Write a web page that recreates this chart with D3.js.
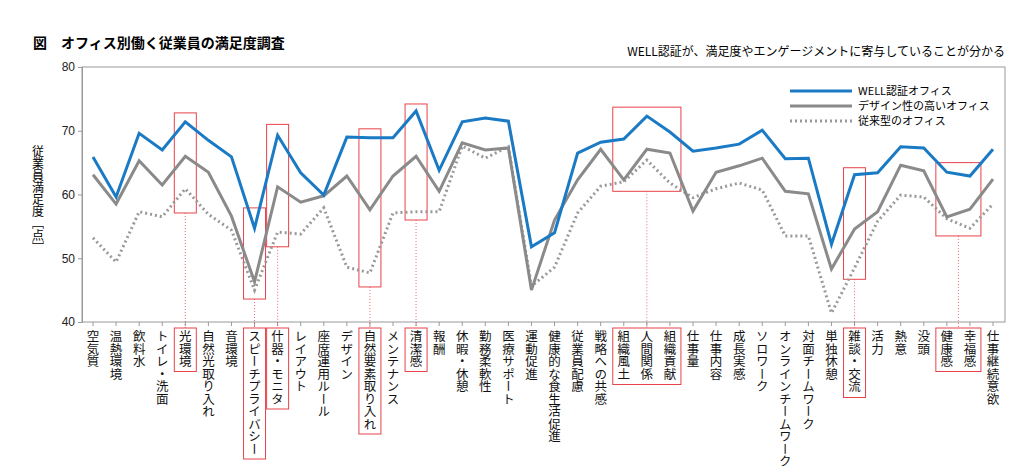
<!DOCTYPE html>
<html><head><meta charset="utf-8">
<script src="https://cdn.jsdelivr.net/npm/d3@7"></script>
<style>body{margin:0;background:#fff}svg{font-family:"Noto Sans CJK JP",sans-serif}</style>
</head><body><svg id="c" width="1024" height="473"></svg>
<script>
const categories=["空気質","温熱環境","飲料水","トイレ・洗面","光環境","自然光取り入れ","音環境","スピーチプライバシー","什器・モニタ","レイアウト","座席運用ルール","デザイン","自然要素取り入れ","メンテナンス","清潔感","報酬","休暇・休憩","勤務柔軟性","医療サポート","運動促進","健康的な食生活促進","従業員配慮","戦略への共感","組織風土","人間関係","組織貢献","仕事量","仕事内容","成長実感","ソロワーク","オンラインチームワーク","対面チームワーク","単独休憩","雑談・交流","活力","熱意","没頭","健康感","幸福感","仕事継続意欲"];
const well=[65.9,59.6,69.6,67,71.4,68.5,65.9,54.7,69.3,63.4,59.9,69,68.9,68.9,73.1,63.8,71.4,72,71.5,51.8,54,66.5,68.2,68.7,72.3,69.8,66.8,67.3,67.9,70.1,65.6,65.7,52.2,63.1,63.4,67.5,67.3,63.5,62.9,67.1];
const design=[63.1,58.5,65.3,61.5,66,63.5,56.6,46.3,61.2,58.8,59.8,62.9,57.6,62.9,66,60.5,68.1,67,67.3,45,56,62.3,67.1,62.3,67.1,66.5,57.4,63.5,64.5,65.7,60.5,60.1,48.3,54.6,57.3,64.6,63.7,56.5,57.7,62.4];
const conv=[53.2,49.4,57.3,56.5,60.9,56.9,54.4,45,54.1,53.8,57.9,48.6,47.7,57.1,57.3,57.3,67.6,65.7,67.5,45.6,48.6,57.1,61.3,62,65.4,61.8,59.5,60.9,61.8,60.7,53.5,53.5,41.4,48.5,55.8,59.9,59.6,56.2,54.7,58.5];
const yTicks=[40,50,60,70,80];
const seriesNames=["WELL認証オフィス","デザイン性の高いオフィス","従来型のオフィス"];
// highlight groups: [firstIndex,lastIndex,topValue,bottomValue]
const boxes=[[4,4,72.8,57.1],[7,7,57.9,43.6],[8,8,71,51.8],[12,12,70.3,45.5],[14,14,74.2,56],[23,25,73.7,60.5],[33,33,64.2,46.7],[37,38,65,53.5]];

const svg=d3.select("#c");
const L=82,R=1005,T=67,B=322;
const x=d3.scalePoint().domain(d3.range(categories.length)).range([93,993]);
const y=d3.scaleLinear().domain([40,80]).range([B,T]);
svg.append("rect").attr("x",L).attr("y",T).attr("width",R-L).attr("height",B-T).attr("fill","none").attr("stroke","#999");
const ya=svg.append("g").attr("transform",`translate(${L},0)`).call(d3.axisLeft(y).tickValues(yTicks).tickSize(4));
ya.select(".domain").attr("stroke","#999");ya.selectAll("line").attr("stroke","#999");
ya.selectAll("text").attr("font-size",12).attr("fill","#222");
svg.append("g").attr("transform",`translate(0,${B})`).selectAll("line").data(d3.range(categories.length)).join("line")
 .attr("x1",d=>x(d)).attr("x2",d=>x(d)).attr("y1",0).attr("y2",4).attr("stroke","#999");

svg.append("text").attr("x",33).attr("y",48).attr("font-size",14).attr("font-weight","bold").text("図　オフィス別働く従業員の満足度調査");
svg.append("text").attr("x",1005).attr("y",56).attr("text-anchor","end").attr("font-size",12).text("WELL認証が、満足度やエンゲージメントに寄与していることが分かる");
svg.append("text").attr("x",38).attr("y",145).attr("font-size",12).style("writing-mode","vertical-rl").text("従業員満足度［点］");

const line=d3.line().x((d,i)=>x(i)).y(d=>y(d));
// label boxes
const lab=svg.append("g");
categories.forEach((c,i)=>{
 lab.append("text").attr("x",x(i)).attr("y",330).attr("font-size",12.5).attr("fill","#111").style("writing-mode","vertical-rl").text(c);
});
const texts=lab.selectAll("text").nodes();
boxes.forEach(b=>{
 const x0=x(b[0])-11,x1=x(b[1])+11;
 svg.append("rect").attr("x",x0).attr("y",y(b[2])).attr("width",x1-x0).attr("height",y(b[3])-y(b[2])).attr("fill","none").attr("stroke","#e8434a").attr("stroke-width",1);
 let h=0;for(let i=b[0];i<=b[1];i++){h=Math.max(h,texts[i].getBBox().height);}
 svg.append("rect").attr("x",x0).attr("y",328).attr("width",x1-x0).attr("height",h+6).attr("fill","none").attr("stroke","#e8434a");
 const mx=(x0+x1)/2;
 svg.append("line").attr("x1",mx).attr("x2",mx).attr("y1",y(b[3])).attr("y2",328).attr("stroke","#e8434a").attr("stroke-width",0.8).attr("stroke-dasharray","1,2");
});
svg.append("path").datum(conv).attr("d",line).attr("fill","none").attr("stroke","#999").attr("stroke-width",3).attr("stroke-dasharray","2,3");
svg.append("path").datum(design).attr("d",line).attr("fill","none").attr("stroke","#8a8a8a").attr("stroke-width",3);
svg.append("path").datum(well).attr("d",line).attr("fill","none").attr("stroke","#1a7ac4").attr("stroke-width",3);

const styles=[{c:"#1a7ac4",d:null},{c:"#8a8a8a",d:null},{c:"#999",d:"2,3"}];
seriesNames.forEach((n,i)=>{
 const yy=91+i*15;
 svg.append("line").attr("x1",790).attr("x2",852).attr("y1",yy).attr("y2",yy).attr("stroke",styles[i].c).attr("stroke-width",3).attr("stroke-dasharray",styles[i].d);
 svg.append("text").attr("x",858).attr("y",yy+4).attr("font-size",11).text(n);
});
</script></body></html>
